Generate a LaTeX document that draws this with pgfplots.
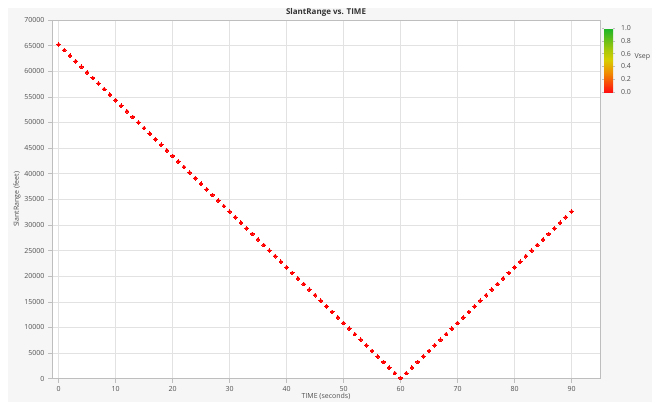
\documentclass[border=0pt]{standalone}
\usepackage{fontspec}
\setmainfont{Open Sans}
\usepackage{pgfplots}
\usepackage{pgfplotstable}
\pgfplotsset{compat=1.18}
\definecolor{bggray}{RGB}{246,246,246}
\definecolor{gridgray}{RGB}{226,226,226}
\definecolor{axgray}{RGB}{190,190,190}
\definecolor{txtgray}{RGB}{80,80,80}
\definecolor{ptred}{RGB}{255,0,0}
\pgfplotstableread{
t r
0 65220
1 64133
2 63046
3 61959
4 60872
5 59785
6 58698
7 57611
8 56524
9 55437
10 54350
11 53263
12 52176
13 51089
14 50002
15 48915
16 47828
17 46741
18 45654
19 44567
20 43480
21 42393
22 41306
23 40219
24 39132
25 38045
26 36958
27 35871
28 34784
29 33697
30 32610
31 31523
32 30436
33 29349
34 28262
35 27175
36 26088
37 25001
38 23914
39 22827
40 21740
41 20653
42 19566
43 18479
44 17392
45 16305
46 15218
47 14131
48 13044
49 11957
50 10870
51 9783
52 8696
53 7609
54 6522
55 5435
56 4348
57 3261
58 2174
59 1087
60 150
61 1087
62 2174
63 3261
64 4348
65 5435
66 6522
67 7609
68 8696
69 9783
70 10870
71 11957
72 13044
73 14131
74 15218
75 16305
76 17392
77 18479
78 19566
79 20653
80 21740
81 22827
82 23914
83 25001
84 26088
85 27175
86 28262
87 29349
88 30436
89 31523
90 32610
}\slant
\begin{document}
\begin{tikzpicture}
\useasboundingbox (0,0) rectangle (652pt,402pt);
\fill[bggray] (8pt,0) rectangle (652pt,394pt);
\begin{axis}[
  at={(52pt,23.3pt)}, anchor=south west,
  scale only axis, width=548pt, height=358.7pt,
  xmin=-1.16, xmax=95, ymin=0, ymax=70000,
  xtick={0,10,...,90}, ytick={0,5000,...,70000},
  scaled y ticks=false,
  /pgf/number format/assume math mode=true,
  yticklabel style={/pgf/number format/fixed,/pgf/number format/1000 sep={}},
  ticklabel style={font=\fontsize{7}{8}\selectfont, text=txtgray},
  tick style={axgray, line width=0.6pt},
  tick align=outside, major tick length=4pt,
  xtick pos=bottom, ytick pos=left,
  grid=major, grid style={gridgray, line width=0.6pt},
  axis line style={axgray, line width=0.7pt},
  axis background/.style={fill=white},
  xlabel={TIME (seconds)},
  xlabel style={at={(axis description cs:0.5,-0.048)}, anchor=center, font=\fontsize{7}{8}\selectfont, text=txtgray},
  ylabel={SlantRange (feet)},
  ylabel style={at={(axis description cs:-0.064,0.5)}, anchor=center, font=\fontsize{7}{8}\selectfont, text=txtgray},
  colormap={vsep}{rgb255(0)=(255,15,15); rgb255(0.3)=(240,140,0); rgb255(0.5)=(215,205,0); rgb255(0.65)=(170,200,10); rgb255(1)=(25,180,40)},
  point meta min=0, point meta max=1,
  colorbar,
  colorbar style={
    at={(1.0073,0.9777)}, anchor=north west,
    width=9pt, height=64pt,
    ytick={0,0.2,...,1.0},
    yticklabel style={/pgf/number format/fixed,/pgf/number format/fixed zerofill,/pgf/number format/precision=1, font=\fontsize{7}{8}\selectfont, text=txtgray, xshift=2.5pt},
    /pgf/number format/assume math mode=true,
    tick style={axgray}, major tick length=2pt, tick align=outside,
    axis line style={draw=none},
    grid=none,
  },
]
\addplot[color=ptred, only marks, mark=*, mark size=1.85pt, mark options={draw=ptred, fill=ptred, line width=0pt}] table[x=t, y=r] {\slant};
\end{axis}
\node[font=\fontsize{8}{9}\selectfont\bfseries, text=black!80] at (326pt,389.5pt) {SlantRange vs. TIME};
\node[font=\fontsize{7}{8}\selectfont, text=txtgray, anchor=west] at (631pt,345pt) {Vsep};
\end{tikzpicture}
\end{document}
